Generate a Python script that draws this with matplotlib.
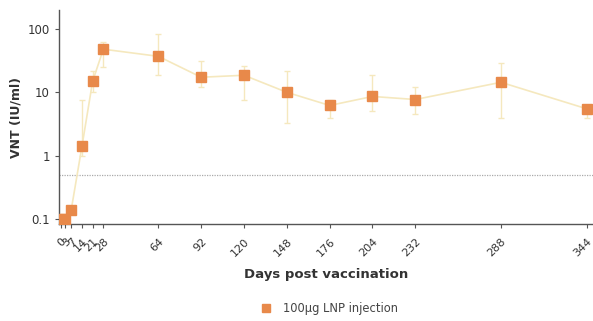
import matplotlib.pyplot as plt
from matplotlib.ticker import FixedLocator, NullLocator

# days post vaccination and titres
days = [0, 3, 7, 14, 21, 28, 64, 92, 120, 148, 176, 204, 232, 288, 344]
vnt = [0.1, 0.1, 0.14, 1.4, 15, 48, 37, 17.3, 18.6, 10, 6.2, 8.6, 7.7, 14.4, 5.5]
vnt_upper = [0.1, 0.1, 0.14, 7.7, 22, 62, 83, 31, 26, 22, 7.7, 19, 12, 29, 6]
vnt_lower = [0.1, 0.1, 0.14, 1.0, 10, 25, 19, 12, 7.7, 3.3, 3.9, 5, 4.6, 4.0, 4.0]
tick_days = [0, 3, 7, 14, 21, 28, 64, 92, 120, 148, 176, 204, 232, 288, 344]
y_ticks = [0.1, 1, 10, 100]
y_tick_labels = ["0.1", "1", "10", "100"]
cutoff = 0.5

orange = "#E8894A"
cream = "#F5E8BE"
grey = "#555555"

fig = plt.figure(figsize=(5.93, 3.21), dpi=100)
ax = fig.add_axes([0.0995, 0.302, 0.9, 0.667])

err_lo = [v - l for v, l in zip(vnt, vnt_lower)]
err_hi = [u - v for v, u in zip(vnt, vnt_upper)]
ax.errorbar(days, vnt, yerr=[err_lo, err_hi], fmt="none", ecolor=cream,
            elinewidth=1, capsize=2, zorder=2)
ax.plot(days, vnt, color=cream, lw=1.2, zorder=2)
ax.plot(days, vnt, ls="none", marker="s", ms=6.5, color=orange, zorder=3,
        label="100\u00b5g LNP injection")

ax.axhline(cutoff, color="#aaaaaa", ls=(0, (1, 1)), lw=0.9, zorder=1)

ax.set_yscale("log")
ax.set_ylim(0.083, 200)
ax.set_xlim(-1, 348)
ax.yaxis.set_major_locator(FixedLocator(y_ticks))
ax.yaxis.set_minor_locator(NullLocator())
ax.set_yticklabels(y_tick_labels)
ax.set_xticks(tick_days)
ax.set_xticklabels([str(d) for d in tick_days], rotation=45, ha="right",
                   rotation_mode="anchor")

for s in ["top", "right"]:
    ax.spines[s].set_visible(False)
for s in ["left", "bottom"]:
    ax.spines[s].set_color(grey)
    ax.spines[s].set_linewidth(1)
ax.tick_params(colors=grey, labelsize=8.5, length=3, labelcolor="#333333")
ax.tick_params(axis="x", pad=6, labelsize=8)

ax.set_ylabel("VNT (IU/ml)", fontsize=9, fontweight="bold", color="#333333",
              labelpad=4)
ax.set_xlabel("Days post vaccination", fontsize=9.5, fontweight="bold",
              color="#333333", labelpad=7)

fig.legend(loc="lower center", bbox_to_anchor=(0.55, -0.015), frameon=False,
           fontsize=8.3, labelcolor="#444444", markerscale=0.8, handletextpad=0.5)

fig.savefig("out.png", dpi=100)
